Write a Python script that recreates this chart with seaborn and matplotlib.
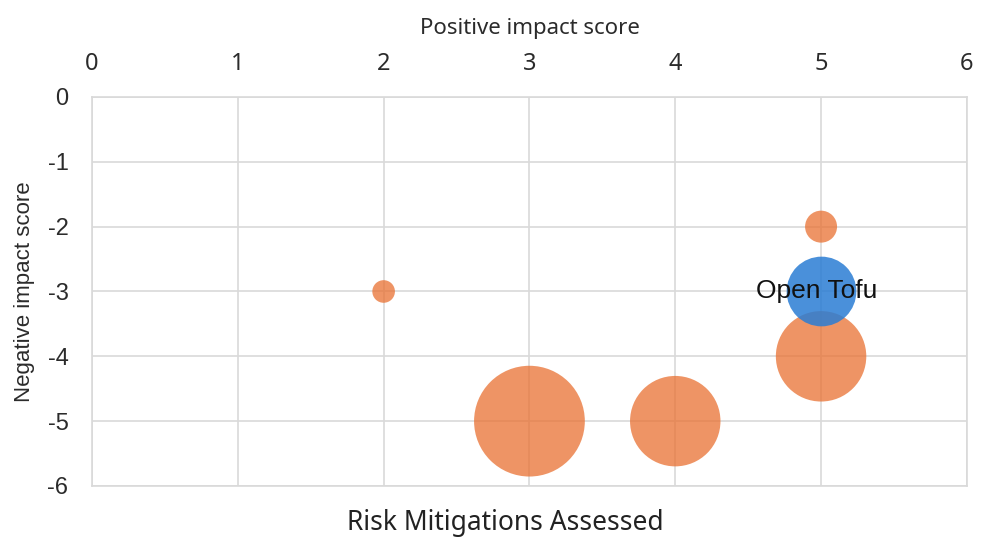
import matplotlib
matplotlib.use("Agg")
import matplotlib.pyplot as plt
import pandas as pd
import seaborn as sns

# bubble chart data
pos_score = [2, 3, 4, 5, 5]
neg_score = [-3, -5, -5, -4, -2]
bubble = [1, 24, 16, 16, 2]

tofu_pos = [5]
tofu_neg = [-3]
tofu_bubble = [9.5]
tofu_label = "Open Tofu"

x_ticks = [0, 1, 2, 3, 4, 5, 6]
y_ticks = [0, -1, -2, -3, -4, -5, -6]

others = pd.DataFrame({"pos": pos_score, "neg": neg_score, "bubble": bubble})
tofu = pd.DataFrame({"pos": tofu_pos, "neg": tofu_neg, "bubble": tofu_bubble})

sns.set_style("white")
plt.rcParams["axes.unicode_minus"] = False
fig = plt.figure(figsize=(9.83, 5.37), dpi=100)
ax = fig.add_axes([0.0936, 0.095, 0.89, 0.7244])

size_kw = dict(size="bubble", sizes=(0, 24 * 265), size_norm=(0, 24), legend=False)

sns.scatterplot(data=others, x="pos", y="neg", color="#E97132", alpha=0.75,
                linewidth=0, ax=ax, **size_kw)
sns.scatterplot(data=tofu, x="pos", y="neg", color="#2A7DD4", alpha=0.85,
                linewidth=0, ax=ax, **size_kw)

ax.text(tofu_pos[0] - 0.03, tofu_neg[0], tofu_label, ha="center", va="center",
        fontsize=19, family="Liberation Sans", color="#111111")

ax.set_xlim(0, 6)
ax.set_ylim(-6, 0)
ax.set_xticks(x_ticks)
ax.set_yticks(y_ticks)
ax.xaxis.tick_top()
ax.xaxis.set_label_position("top")
ax.grid(True, color="#d9d9d9", linewidth=1.2)
ax.set_axisbelow(True)
for s in ax.spines.values():
    s.set_color("#d9d9d9")
    s.set_linewidth(1.2)
ax.tick_params(axis="x", length=0, pad=15, labelsize=17, labelcolor="#2b2b2b")
ax.tick_params(axis="y", length=0, pad=17, labelsize=17, labelcolor="#2b2b2b")
for lab in ax.get_xticklabels():
    lab.set_family("Noto Sans")
for lab in ax.get_yticklabels():
    lab.set_family("Liberation Sans")

ax.set_xlabel("Positive impact score", fontsize=16, family="Noto Sans",
              color="#2b2b2b", labelpad=13)
ax.set_ylabel("Negative impact score", fontsize=16, family="Liberation Sans",
              color="#2b2b2b", labelpad=9)

fig.text(505 / 983, 1 - 523 / 537, "Risk Mitigations Assessed", ha="center",
         va="center", fontsize=19, family="Noto Sans", color="#222222")

fig.savefig("out.png", dpi=100)
